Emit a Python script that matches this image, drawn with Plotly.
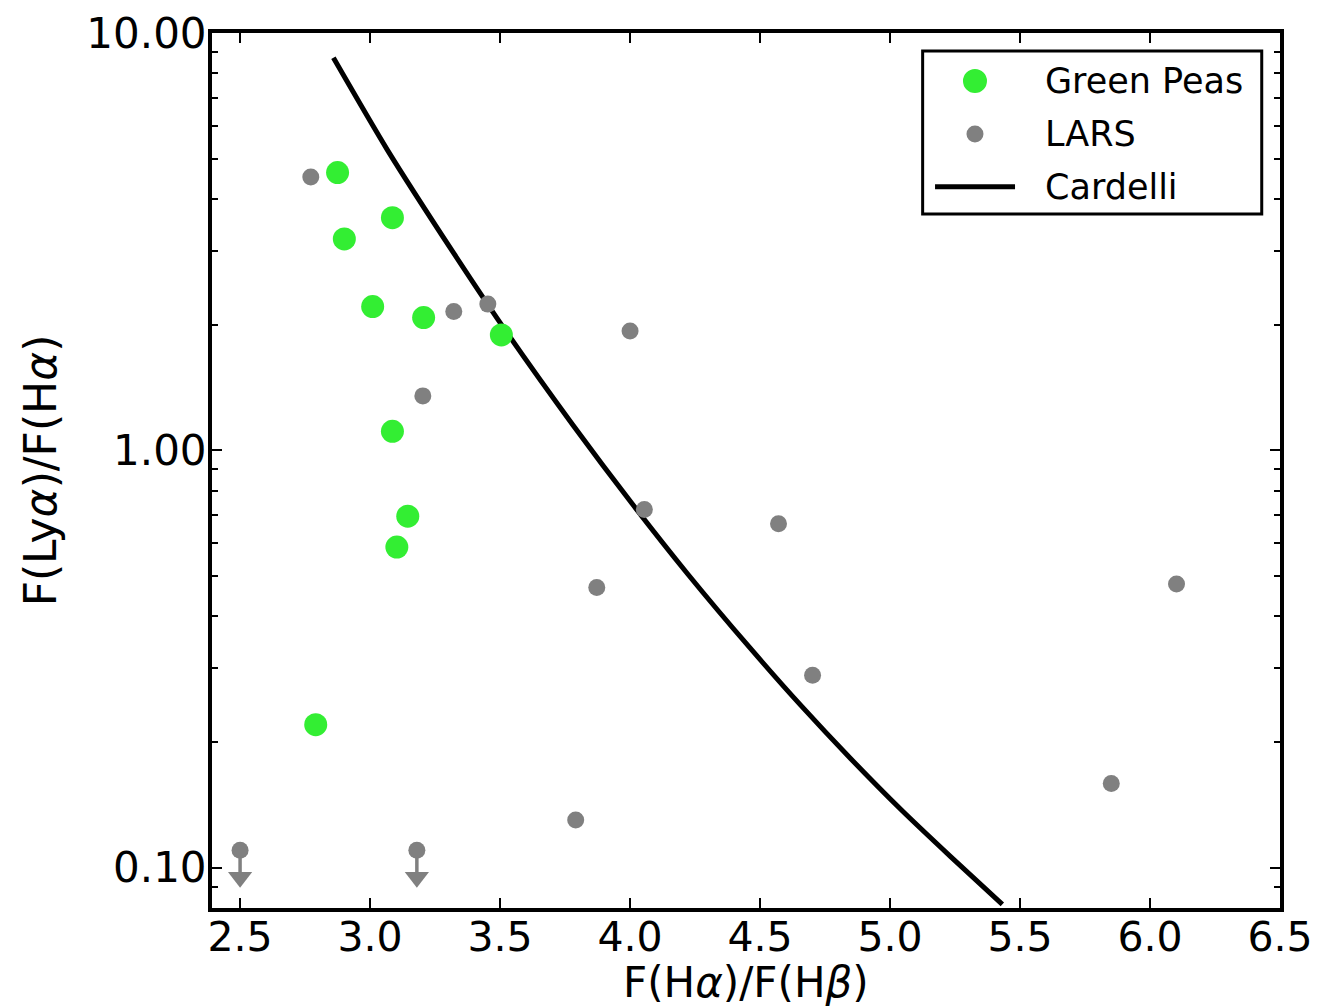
import plotly.graph_objects as go

# ---- data ----
gp_x = [2.875, 3.086, 2.901, 3.010, 3.206, 3.505, 3.086, 3.145, 3.103, 2.791]
gp_y = [4.63, 3.61, 3.21, 2.21, 2.08, 1.89, 1.11, 0.695, 0.586, 0.220]

lars_x = [2.772, 3.322, 3.453, 4.000, 3.203, 4.055, 4.571, 3.872, 6.102, 4.702, 5.851, 3.791]
lars_y = [4.52, 2.15, 2.24, 1.93, 1.35, 0.721, 0.667, 0.469, 0.478, 0.289, 0.159, 0.130]

# LARS upper limits
lim_x = [2.50, 3.18]
lim_y = [0.110, 0.110]

# Cardelli curve
card_x = [2.859, 3.067, 3.323, 3.528, 3.778, 4.009, 4.221, 4.464, 4.657, 4.849, 5.041, 5.233, 5.432]
card_y = [8.72, 5.24, 2.958, 1.907, 1.154, 0.743, 0.506, 0.3345, 0.2446, 0.1823, 0.1379, 0.1062, 0.0816]

x_ticks = [2.5, 3.0, 3.5, 4.0, 4.5, 5.0, 5.5, 6.0, 6.5]
x_ticktext = ["2.5", "3.0", "3.5", "4.0", "4.5", "5.0", "5.5", "6.0", "6.5"]
y_ticks = [0.1, 1, 10]
y_ticktext = ["0.10", "1.00", "10.00"]
y_minor = [0.08, 0.09] + [m * 0.1 for m in range(2, 10)] + [m * 1.0 for m in range(2, 10)]

GREEN = "#33ee33"
GREY = "#808080"
FONT = "DejaVu Sans"

fig = go.Figure()

fig.add_trace(go.Scatter(x=card_x, y=card_y, mode="lines", name="Cardelli",
                         line=dict(color="black", width=5, shape="spline", smoothing=0.7),
                         showlegend=False))
fig.add_trace(go.Scatter(x=lars_x, y=lars_y, mode="markers", name="LARS",
                         marker=dict(color=GREY, size=17, line=dict(width=0)), showlegend=False))

# upper-limit points: dot, stem and downward arrow head
stem_x, stem_y = [], []
for xv, yv in zip(lim_x, lim_y):
    stem_x += [xv, xv, None]
    stem_y += [yv, yv * 0.862, None]
fig.add_trace(go.Scatter(x=stem_x, y=stem_y, mode="lines", line=dict(color=GREY, width=3.5),
                         showlegend=False, hoverinfo="skip"))
fig.add_trace(go.Scatter(x=lim_x, y=lim_y, mode="markers", name="LARS (upper limit)",
                         marker=dict(color=GREY, size=17, line=dict(width=0)), showlegend=False))
fig.add_trace(go.Scatter(x=lim_x, y=[v * 0.862 for v in lim_y], mode="markers",
                         marker=dict(color=GREY, size=21, symbol="triangle-down", line=dict(width=0)),
                         showlegend=False, hoverinfo="skip"))

fig.add_trace(go.Scatter(x=gp_x, y=gp_y, mode="markers", name="Green Peas",
                         marker=dict(color=GREEN, size=23, line=dict(width=0)), showlegend=False))

# ---- manual legend (paper coordinates) ----
fig.add_shape(type="rect", xref="paper", yref="paper", x0=0.6654, x1=0.9829, y0=0.7931, y1=0.9794,
              line=dict(color="black", width=3), fillcolor="white", layer="above")
fig.add_shape(type="circle", xref="paper", yref="paper", xsizemode="pixel", ysizemode="pixel",
              xanchor=0.7144, yanchor=0.9451, x0=-12, x1=12, y0=-12, y1=12,
              fillcolor=GREEN, line=dict(width=0), layer="above")
fig.add_shape(type="circle", xref="paper", yref="paper", xsizemode="pixel", ysizemode="pixel",
              xanchor=0.7144, yanchor=0.8846, x0=-8.5, x1=8.5, y0=-8.5, y1=8.5,
              fillcolor=GREY, line=dict(width=0), layer="above")
fig.add_shape(type="line", xref="paper", yref="paper", x0=0.677, x1=0.7519, y0=0.8243, y1=0.8243,
              line=dict(color="black", width=5), layer="above")
for txt, yy in [("Green Peas", 0.9451), ("LARS", 0.8846), ("Cardelli", 0.8243)]:
    fig.add_annotation(text=txt, xref="paper", yref="paper", x=0.7778, y=yy, xanchor="left",
                       yanchor="middle", showarrow=False, font=dict(family=FONT, size=35, color="black"))

# x-axis title placed at the bottom of the figure
fig.add_annotation(text="F(H<i>α</i>)/F(H<i>β</i>)", xref="paper", yref="paper", x=0.5, y=-100 / 875,
                   xanchor="center", yanchor="bottom", showarrow=False, borderpad=0,
                   font=dict(family=FONT, size=42, color="black"))

fig.update_layout(
    width=1323, height=1008,
    margin=dict(l=212, r=43, t=33, b=100),
    plot_bgcolor="white", paper_bgcolor="white",
    font=dict(family=FONT, color="black"),
    showlegend=False,
)
fig.update_xaxes(range=[2.392, 6.5], tickmode="array", tickvals=x_ticks, ticktext=x_ticktext,
                 ticks="inside", ticklen=10, tickwidth=2, tickcolor="black", ticklabelstandoff=-10,
                 showline=True, linewidth=4, linecolor="black", mirror="ticks", automargin=False,
                 showgrid=False, zeroline=False, tickfont=dict(family=FONT, size=41))
fig.update_yaxes(type="log", range=[-1.097, 1.0], tickmode="array", tickvals=y_ticks, ticktext=y_ticktext,
                 ticks="inside", ticklen=10, tickwidth=2, tickcolor="black", ticklabelstandoff=-7,
                 minor=dict(tickmode="array", tickvals=y_minor, ticks="inside", ticklen=6, tickwidth=2,
                            tickcolor="black", showgrid=False),
                 showline=True, linewidth=4, linecolor="black", mirror="ticks", automargin=False,
                 showgrid=False, zeroline=False, tickfont=dict(family=FONT, size=42),
                 title=dict(text="F(Ly<i>α</i>)/F(H<i>α</i>)", font=dict(family=FONT, size=44), standoff=17))

fig.write_html("out.html")
